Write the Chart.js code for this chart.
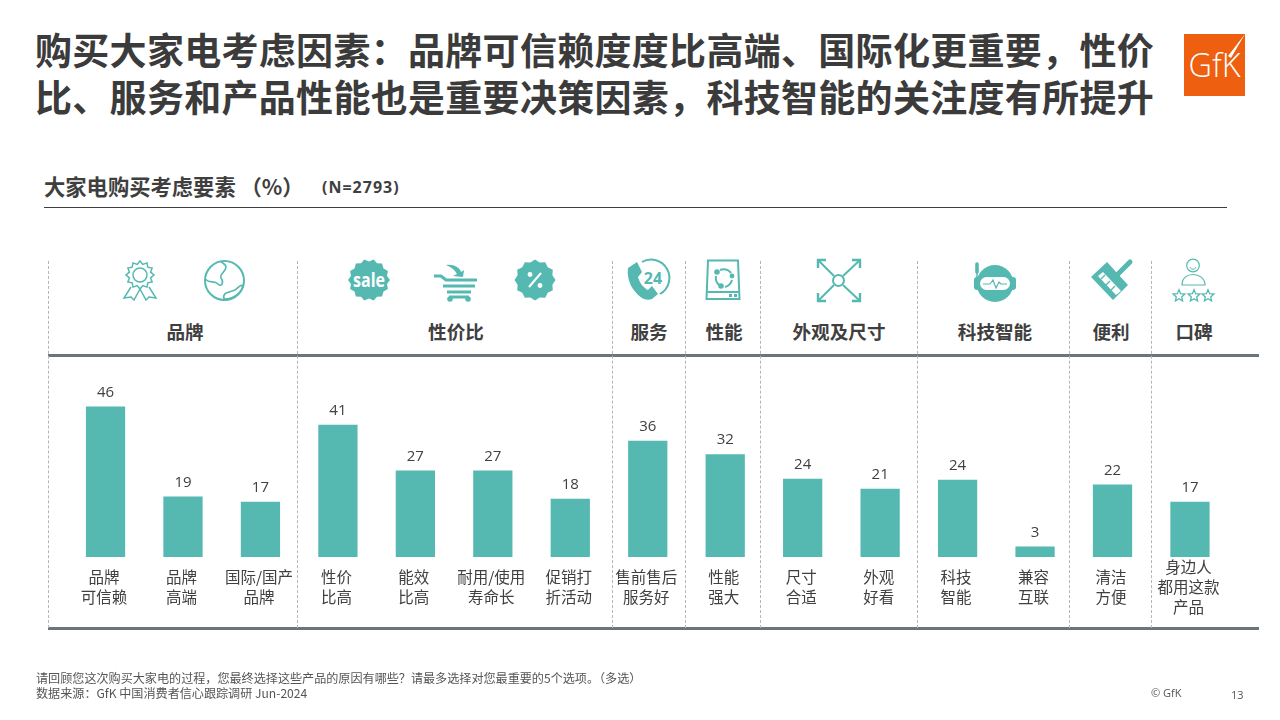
<!DOCTYPE html>
<html lang="zh">
<head>
<meta charset="utf-8">
<title>大家电购买考虑要素</title>
<script src="https://cdn.jsdelivr.net/npm/chart.js@4"></script>
<style>
html, body { margin: 0; padding: 0; background: #fff; }
body { width: 1280px; height: 720px; position: relative; overflow: hidden; font-family: "Noto Sans CJK SC", "Noto Sans", sans-serif; color: #3f3f3f; }
.abs { position: absolute; white-space: nowrap; }
#title { left: 35px; top: 26px; font-size: 37px; line-height: 47px; font-weight: 700; letter-spacing: 0.3px; color: #3b3b3b; }
#subtitle { left: 44px; top: 172px; font-size: 21.3px; line-height: 28px; font-weight: 700; }
#nBase { left: 322px; top: 177px; font-size: 16px; line-height: 20px; font-weight: 700; letter-spacing: 1px; font-family: "Open Sans", sans-serif; }
#rule { left: 44px; top: 207px; width: 1183px; height: 1px; background: #3f3f3f; }
#note { left: 36px; top: 671px; font-size: 12.1px; line-height: 14.5px; color: #555; }
#copy { left: 1151px; top: 686px; font-size: 11px; line-height: 14px; color: #555; font-family: "Open Sans", sans-serif; }
#page { left: 1231px; top: 688px; font-size: 11px; line-height: 14px; color: #555; font-family: "Open Sans", sans-serif; }
.groupName { font-size: 18.6px; line-height: 28px; top: 317px; font-weight: 700; transform: translateX(-50%); }
.sep { position: absolute; top: 261px; height: 367px; width: 0; border-left: 1px dashed #b5b5b5; }
.bar { position: absolute; left: 48px; width: 1211px; height: 3px; background: #6b7479; }
#art { position: absolute; left: 0; top: 0; }
#chart { position: absolute; left: 0; top: 0; }
</style>
</head>
<body>
<svg id="art" width="1280" height="720" viewBox="0 0 1280 720"></svg>
<div id="title" class="abs">购买大家电考虑因素：品牌可信赖度度比高端、国际化更重要，性价<br>比、服务和产品性能也是重要决策因素，科技智能的关注度有所提升</div>
<div id="subtitle" class="abs">大家电购买考虑要素 （%）</div>
<div id="nBase" class="abs">(N=2793)</div>
<div id="rule" class="abs"></div>
<div class="bar" style="top:354px"></div>
<div class="bar" style="top:627px"></div>
<div id="groups"></div>
<div style="position:absolute;left:0;top:0;width:1280px;height:720px">
  <canvas id="chart" width="1280" height="720"></canvas>
</div>
<div id="note" class="abs">请回顾您这次购买大家电的过程，您最终选择这些产品的原因有哪些？请最多选择对您最重要的5个选项。（多选）<br>数据来源：GfK 中国消费者信心跟踪调研 Jun-2024</div>
<div id="copy" class="abs">© GfK</div>
<div id="page" class="abs">13</div>

<script>
// Datos
const CATEGORIES = [
    ['品牌', '可信赖'], ['品牌', '高端'], ['国际/国产', '品牌'],
    ['性价', '比高'], ['能效', '比高'], ['耐用/使用', '寿命长'], ['促销打', '折活动'],
    ['售前售后', '服务好'], ['性能', '强大'], ['尺寸', '合适'], ['外观', '好看'],
    ['科技', '智能'], ['兼容', '互联'], ['清洁', '方便'], ['身边人', '都用这款', '产品']
];
const VALUES = [46.2, 18.5, 16.9, 40.6, 26.5, 26.5, 17.8, 35.7, 31.5, 24, 20.9, 23.7, 3.1, 22.2, 16.9];
const GROUP_NAMES = ['品牌', '性价比', '服务', '性能', '外观及尺寸', '科技智能', '便利', '口碑'];
const GROUP_CENTERS = [185, 456, 649, 724, 839, 995, 1111, 1194];
const SEPARATORS = [48, 297, 612, 685, 760, 917, 1069, 1151];

const TEAL = '#55b9b2';

// Cabeceras de grupo y separadores
const groupsDiv = document.getElementById('groups');
let groupsHtml = '';
GROUP_NAMES.forEach((g, i) => {
    groupsHtml += `<div class="abs groupName" style="left:${GROUP_CENTERS[i]}px">${g}</div>`;
});
SEPARATORS.forEach(x => {
    groupsHtml += `<div class="sep" style="left:${x}px"></div>`;
});
groupsDiv.innerHTML = groupsHtml;

// Insignia ondulada para los iconos
function badge(cx, cy, r, n, depth) {
    let pts = '';
    const total = n * 2;
    for (let i = 0; i < total; i++) {
        const a = i / total * Math.PI * 2;
        const rr = i % 2 ? r - depth : r;
        pts += (cx + rr * Math.cos(a)).toFixed(1) + ',' + (cy + rr * Math.sin(a)).toFixed(1) + ' ';
    }
    return pts;
}

function starPts(cx, cy) {
    let pts = '';
    for (let i = 0; i < 10; i++) {
        const a = -Math.PI / 2 + i * Math.PI / 5;
        const rr = i % 2 ? 2.8 : 6.2;
        pts += (cx + rr * Math.cos(a)).toFixed(1) + ',' + (cy + rr * Math.sin(a)).toFixed(1) + ' ';
    }
    return pts;
}

// Iconos
const line = `fill="none" stroke="${TEAL}"`;
document.getElementById('art').innerHTML = `
  <!-- roseta -->
  <polygon points="${badge(140, 275, 14, 12, 3)}" ${line} stroke-width="1.5"/>
  <circle cx="140" cy="275" r="7" ${line} stroke-width="1.5"/>
  <path d="M131 287 L124 298 L131 297 L134 300 L140 289 L146 300 L149 297 L156 298 L149 287" ${line} stroke-width="1.5"/>
  <!-- globo -->
  <circle cx="224.5" cy="280.5" r="19.5" ${line} stroke-width="2"/>
  <path d="M205 279 C210 284 214 280 218 284 C222 288 224 282 221 278 C219 274 226 272 226 267 C226 264 222 263 220 261" ${line} stroke-width="1.6"/>
  <path d="M224 299 C222 292 230 292 235 290 C238 288 239 285 243 285 C242 292 235 299 224 299 Z" ${line} stroke-width="1.6"/>
  <!-- sale -->
  <polygon points="${badge(369, 280, 21, 14, 2.5)}" fill="${TEAL}"/>
  <text x="369" y="287" text-anchor="middle" font-family="Open Sans" font-weight="700" font-size="20" fill="#fff" textLength="32" lengthAdjust="spacingAndGlyphs">sale</text>
  <!-- carrito -->
  <path d="M434 276 H441 L446 280 H477 M443 286 H475 M447 292 H471 M449 297 H469" ${line} stroke-width="3"/>
  <circle cx="450" cy="299" r="2.8" fill="${TEAL}"/><circle cx="468" cy="299" r="2.8" fill="${TEAL}"/>
  <path d="M446 265 C454 264 460 268 461 272 L464 270 L463 277 L453 276 L457 274 C455 270 451 267 446 265 Z" fill="${TEAL}"/>
  <!-- porcentaje -->
  <polygon points="${badge(535, 280, 20.5, 12, 2.5)}" fill="${TEAL}"/>
  <path d="M541 273 L529 287" stroke="#fff" stroke-width="2" fill="none"/>
  <circle cx="530" cy="274.5" r="2.4" fill="#fff"/><circle cx="540" cy="285.5" r="2.4" fill="#fff"/>
  <!-- telefono 24 -->
  <path d="M642 262 A18 18 0 1 1 660 294" ${line} stroke-width="2"/>
  <path d="M628 268 L637 262 L642 272 L638 277 C640 284 644 288 648 290 L652 286 L658 294 L652 299 C645 302 638 296 633 289 C629 283 627 275 628 268 Z" fill="${TEAL}"/>
  <text x="653" y="284" text-anchor="middle" font-family="Open Sans" font-weight="700" font-size="16" fill="${TEAL}">24</text>
  <!-- disco -->
  <path d="M708 260.5 H738 L739.5 299 H706.5 Z" ${line} stroke-width="2"/>
  <path d="M707 292 H739" ${line} stroke-width="2"/>
  <rect x="729" y="294" width="3" height="3" fill="${TEAL}"/><rect x="734" y="294" width="3" height="3" fill="${TEAL}"/>
  <circle cx="717" cy="272" r="2.8" fill="${TEAL}"/><circle cx="732" cy="276" r="2.4" fill="${TEAL}"/><circle cx="721" cy="286" r="2.8" fill="${TEAL}"/>
  <path d="M720 270 A10 10 0 0 1 731 273 M716 276 A10 10 0 0 0 719 285 M725 287 A10 10 0 0 0 732 280" ${line} stroke-width="2"/>
  <!-- flechas -->
  <circle cx="838.5" cy="280.5" r="5.5" ${line} stroke-width="2"/>
  <path d="M834 276 L818 260 M843 276 L860 260 M834 285 L818 301 M843 285 L860 301" ${line} stroke-width="2"/>
  <path d="M818 268 V260 H826 M852 260 H860 V268 M818 293 V301 H826 M860 293 V301 H852" ${line} stroke-width="2.4"/>
  <!-- robot -->
  <path d="M977 264 V272" stroke="${TEAL}" stroke-width="3.6" stroke-linecap="round"/>
  <path d="M977 270 V278" stroke="${TEAL}" stroke-width="1.5"/>
  <ellipse cx="995" cy="283.5" rx="18.5" ry="18.5" fill="${TEAL}"/>
  <rect x="974" y="277" width="42" height="13" rx="3" fill="${TEAL}"/>
  <rect x="980" y="277" width="30" height="13" rx="6.5" fill="#fff"/>
  <path d="M983 284 H990 L993 280 L996 288 L999 282 L1001 284 H1007" ${line} stroke-width="1.2"/>
  <!-- brocha -->
  <path d="M1117 275 L1130 262" stroke="${TEAL}" stroke-width="5" stroke-linecap="round"/>
  <path d="M1107 262 L1128 285 L1113 300 L1091 277 Z" fill="${TEAL}"/>
  <path d="M1098 276 L1103 272 L1121 291 L1116 295 Z" fill="#fff"/>
  <path d="M1101 279 L1105 275 M1106 285 L1110 281 M1111 290 L1115 286" stroke="${TEAL}" stroke-width="1.4"/>
  <!-- persona -->
  <circle cx="1193" cy="265.5" r="6.3" ${line} stroke-width="1.2"/>
  <path d="M1190 267 C1191 270 1195 270 1196 267" ${line} stroke-width="1"/>
  <path d="M1182 285 C1182 278 1187 274.5 1193 274.5 C1199 274.5 1205 278 1205 285 Z" ${line} stroke-width="1.2"/>
  <polygon points="${starPts(1179, 296)}" ${line} stroke-width="1.3"/>
  <polygon points="${starPts(1194, 296)}" ${line} stroke-width="1.3"/>
  <polygon points="${starPts(1208, 296)}" ${line} stroke-width="1.3"/>
  <!-- logo -->
  <rect x="1184" y="34" width="61" height="62" fill="#ee5f0f"/>
  <text x="1214.5" y="77" text-anchor="middle" font-family="Open Sans" font-weight="300" font-size="33" fill="#fff" textLength="52" lengthAdjust="spacingAndGlyphs">GfK</text>
  <path d="M1245 34 L1228 56 L1231 58 Z" fill="#fff"/>
`;

// Etiquetas de valor sobre cada barra
const valueLabels = {
    id: 'valueLabels',
    afterDatasetsDraw(chart) {
        const ctx = chart.ctx;
        ctx.save();
        ctx.font = '15px "Open Sans", sans-serif';
        ctx.fillStyle = '#404040';
        ctx.textAlign = 'center';
        ctx.textBaseline = 'middle';
        chart.getDatasetMeta(0).data.forEach((bar, i) => {
            ctx.fillText(Math.round(VALUES[i]), bar.x, bar.y - 14.5);
        });
        ctx.restore();
    }
};

new Chart(document.getElementById('chart').getContext('2d'), {
    type: 'bar',
    data: {
        labels: CATEGORIES,
        datasets: [{ data: VALUES, backgroundColor: TEAL, barThickness: 38.6, borderWidth: 0 }]
    },
    options: {
        responsive: false,
        animation: false,
        layout: { padding: { left: 66.8, right: 51.3, top: 394.5, bottom: 0 } },
        plugins: { legend: { display: false }, tooltip: { enabled: false }, title: { display: false } },
        scales: {
            x: {
                grid: { display: false },
                border: { display: false },
                afterFit(scale) { scale.height = 163; },
                ticks: {
                    autoSkip: false,
                    maxRotation: 0,
                    minRotation: 0,
                    padding: 2.5,
                    labelOffset: -1.5,
                    crossAlign: 'center',
                    color: '#404040',
                    font: { family: '"Noto Sans CJK SC", sans-serif', size: 15.5, lineHeight: 1.28 }
                }
            },
            y: { display: false, min: 0, max: 50 }
        }
    },
    plugins: [valueLabels]
});
</script>
</body>
</html>
